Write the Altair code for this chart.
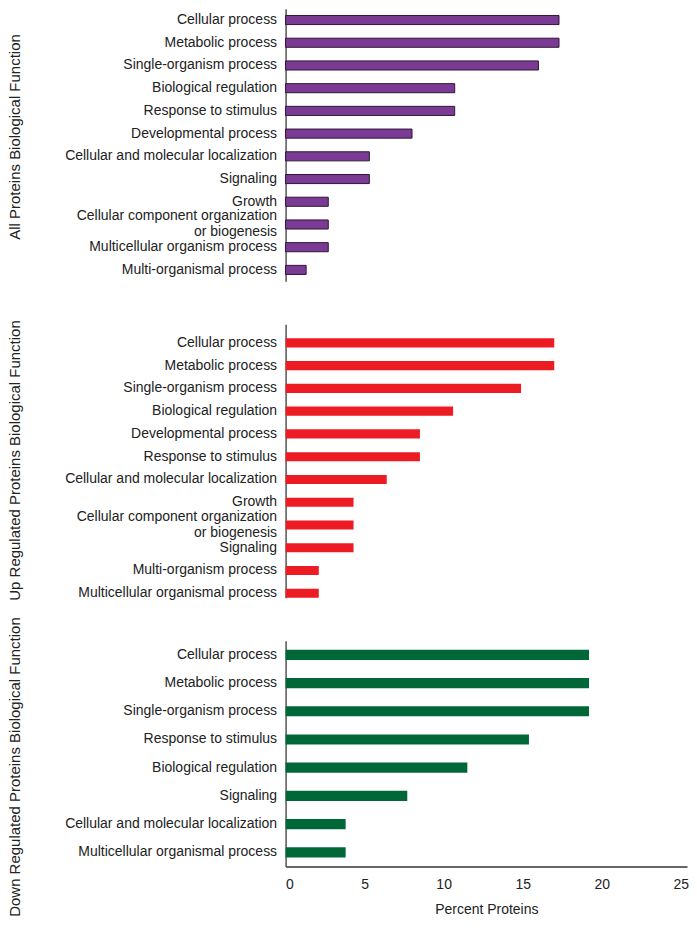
import altair as alt
import pandas as pd

# ---- data ----
all_cats = ["Cellular process", "Metabolic process", "Single-organism process",
            "Biological regulation", "Response to stimulus", "Developmental process",
            "Cellular and molecular localization", "Signaling", "Growth",
            "Cellular component organization|or biogenesis",
            "Multicellular organism process", "Multi-organismal process"]
all_vals = [17.3, 17.3, 16.0, 10.7, 10.7, 8.0, 5.3, 5.3, 2.7, 2.7, 2.7, 1.3]

up_cats = ["Cellular process", "Metabolic process", "Single-organism process",
           "Biological regulation", "Developmental process", "Response to stimulus",
           "Cellular and molecular localization", "Growth",
           "Cellular component organization|or biogenesis", "Signaling",
           "Multi-organism process", "Multicellular organismal process"]
up_vals = [17.0, 17.0, 14.9, 10.6, 8.5, 8.5, 6.4, 4.3, 4.3, 4.3, 2.1, 2.1]

down_cats = ["Cellular process", "Metabolic process", "Single-organism process",
             "Response to stimulus", "Biological regulation", "Signaling",
             "Cellular and molecular localization", "Multicellular organismal process"]
down_vals = [19.2, 19.2, 19.2, 15.4, 11.5, 7.7, 3.8, 3.8]

x_ticks = [0, 5, 10, 15, 20, 25]

FONT = "Liberation Sans, Arial, sans-serif"


def panel(cats, vals, title, color, height, pad_inner, pad_outer, align, title_y,
          stroke=None, show_x=False):
    df = pd.DataFrame({"cat": cats, "val": vals})
    if stroke:
        mark = alt.Chart(df).mark_bar(color=color, stroke=stroke, strokeWidth=1)
    else:
        mark = alt.Chart(df).mark_bar(color=color)
    if show_x:
        xaxis = alt.Axis(values=x_ticks, title="Percent Proteins", grid=False,
                         ticks=False, tickSize=0, domainColor="#333", domainWidth=1.5,
                         labelFont=FONT, labelFontSize=14, labelColor="#222",
                         labelPadding=11, titleFont=FONT, titleFontSize=14,
                         titleFontWeight="normal", titleColor="#222", titlePadding=11)
    else:
        xaxis = None
    return mark.encode(
        x=alt.X("val:Q", scale=alt.Scale(domain=[0, 25.4], nice=False), axis=xaxis),
        y=alt.Y("cat:N", sort=cats,
                scale=alt.Scale(paddingInner=pad_inner, paddingOuter=pad_outer, align=align),
                axis=alt.Axis(title=title, labelExpr="split(datum.label, '|')",
                              ticks=False, tickSize=0, domainColor="#555", domainWidth=1.5,
                              labelFont=FONT, labelFontSize=14, labelColor="#222",
                              labelPadding=9, labelLimit=400, labelLineHeight=16,
                              labelOffset={"condition": {"test": "indexof(datum.value, '|') >= 0",
                                                         "value": -8},
                                           "value": 0},
                              minExtent=255, maxExtent=255,
                              titleFont=FONT, titleFontSize=15,
                              titleFontWeight="normal", titleColor="#222",
                              titlePadding=8, titleY=title_y)),
    ).properties(width=402, height=height)


top = panel(all_cats, all_vals, "All Proteins Biological Function", "#7B3B94",
            273, 0.6, 0.3, 0.5, 128, stroke="#2E1535")
mid = panel(up_cats, up_vals, "Up Regulated Proteins Biological Function", "#ED1C24",
            274, 0.6, 0.31, 1.0, 136)
bot = panel(down_cats, down_vals, "Down Regulated Proteins Biological Function", "#006838",
            226, 0.64, 0.32, 0.5, 126, show_x=True)

chart = alt.vconcat(top, mid, bot, spacing=43, bounds="flush").properties(
    padding=0
).configure_view(stroke=None)

chart.save("out.html", embed_options={"renderer": "svg", "actions": False})
